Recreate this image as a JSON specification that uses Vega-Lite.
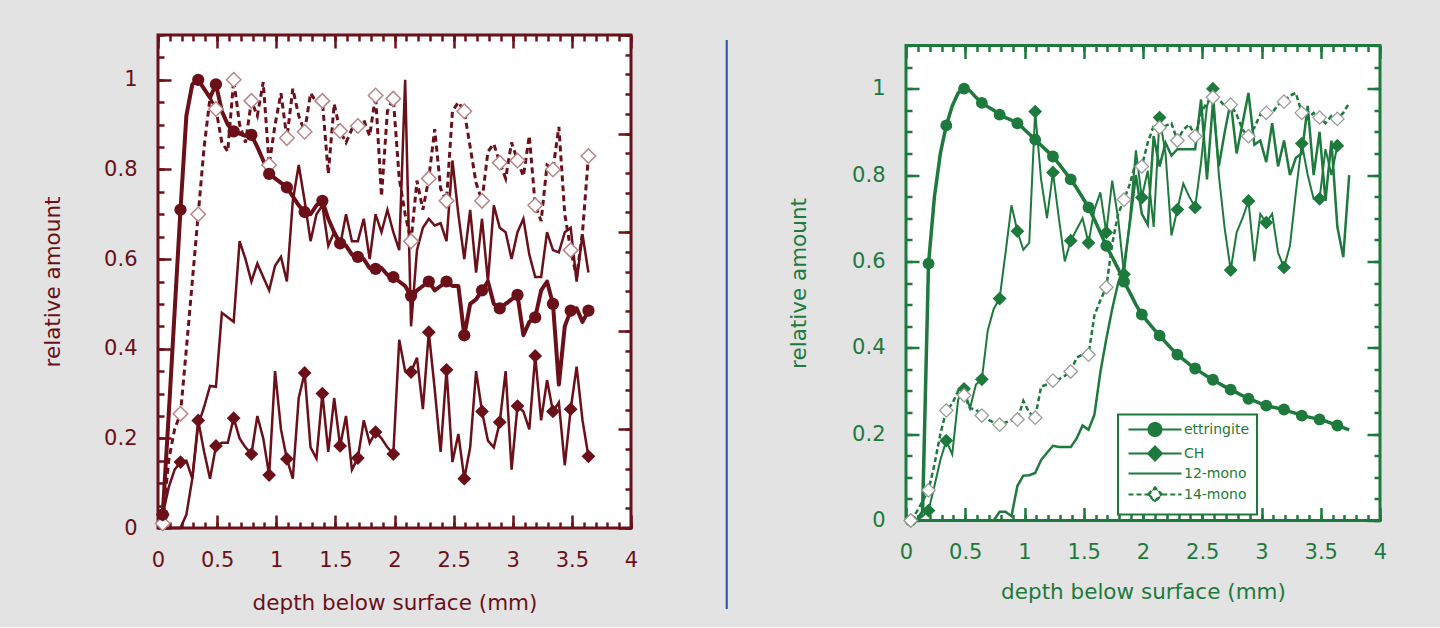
{
"$schema":"https://vega.github.io/schema/vega-lite/v6.json",
"background":"#e3e3e3",
"padding":{"left":41,"top":32,"right":62,"bottom":12},
"spacing":0,
"center":true,
"resolve":{"legend":{"shape":"independent","strokeDash":"independent"}},
"datasets":{
"L":[
{"x":0.04,"ettringite":0.03,"CH":0.03,"12-mono":0,"14-mono":0.01},
{"x":0.09,"ettringite":0.25,"CH":0.09,"12-mono":0,"14-mono":0.15},
{"x":0.14,"ettringite":0.48,"CH":0.13,"12-mono":0,"14-mono":0.22},
{"x":0.19,"ettringite":0.71,"CH":0.147,"12-mono":0,"14-mono":0.255},
{"x":0.24,"ettringite":0.92,"CH":0.15,"12-mono":0.03,"14-mono":0.40},
{"x":0.29,"ettringite":0.99,"CH":0.11,"12-mono":0.11,"14-mono":0.55},
{"x":0.34,"ettringite":1.0,"CH":0.24,"12-mono":0.23,"14-mono":0.70},
{"x":0.39,"ettringite":0.98,"CH":0.17,"12-mono":0.27,"14-mono":0.85},
{"x":0.44,"ettringite":0.96,"CH":0.11,"12-mono":0.317,"14-mono":0.96},
{"x":0.49,"ettringite":0.99,"CH":0.183,"12-mono":0.315,"14-mono":0.935},
{"x":0.54,"ettringite":0.93,"CH":0.19,"12-mono":0.48,"14-mono":0.86},
{"x":0.59,"ettringite":0.90,"CH":0.19,"12-mono":0.47,"14-mono":0.84},
{"x":0.64,"ettringite":0.885,"CH":0.245,"12-mono":0.46,"14-mono":1.0},
{"x":0.69,"ettringite":0.88,"CH":0.20,"12-mono":0.64,"14-mono":0.90},
{"x":0.74,"ettringite":0.875,"CH":0.18,"12-mono":0.60,"14-mono":0.86},
{"x":0.79,"ettringite":0.877,"CH":0.165,"12-mono":0.55,"14-mono":0.953},
{"x":0.84,"ettringite":0.85,"CH":0.25,"12-mono":0.59,"14-mono":0.92},
{"x":0.89,"ettringite":0.82,"CH":0.20,"12-mono":0.56,"14-mono":0.995},
{"x":0.94,"ettringite":0.79,"CH":0.118,"12-mono":0.53,"14-mono":0.81},
{"x":0.99,"ettringite":0.78,"CH":0.35,"12-mono":0.585,"14-mono":0.90},
{"x":1.04,"ettringite":0.77,"CH":0.22,"12-mono":0.605,"14-mono":0.97},
{"x":1.09,"ettringite":0.76,"CH":0.154,"12-mono":0.55,"14-mono":0.87},
{"x":1.14,"ettringite":0.74,"CH":0.11,"12-mono":0.73,"14-mono":0.98},
{"x":1.19,"ettringite":0.72,"CH":0.29,"12-mono":0.81,"14-mono":0.92},
{"x":1.24,"ettringite":0.705,"CH":0.346,"12-mono":0.73,"14-mono":0.884},
{"x":1.29,"ettringite":0.70,"CH":0.18,"12-mono":0.64,"14-mono":0.97},
{"x":1.34,"ettringite":0.72,"CH":0.155,"12-mono":0.70,"14-mono":0.95},
{"x":1.39,"ettringite":0.73,"CH":0.30,"12-mono":0.72,"14-mono":0.953},
{"x":1.44,"ettringite":0.69,"CH":0.17,"12-mono":0.63,"14-mono":0.79},
{"x":1.49,"ettringite":0.66,"CH":0.29,"12-mono":0.66,"14-mono":0.946},
{"x":1.54,"ettringite":0.635,"CH":0.183,"12-mono":0.63,"14-mono":0.886},
{"x":1.59,"ettringite":0.63,"CH":0.25,"12-mono":0.70,"14-mono":0.86},
{"x":1.64,"ettringite":0.61,"CH":0.13,"12-mono":0.64,"14-mono":0.89},
{"x":1.69,"ettringite":0.605,"CH":0.156,"12-mono":0.64,"14-mono":0.897},
{"x":1.74,"ettringite":0.60,"CH":0.24,"12-mono":0.69,"14-mono":0.91},
{"x":1.79,"ettringite":0.58,"CH":0.19,"12-mono":0.60,"14-mono":0.875},
{"x":1.84,"ettringite":0.578,"CH":0.214,"12-mono":0.70,"14-mono":0.965},
{"x":1.89,"ettringite":0.58,"CH":0.20,"12-mono":0.66,"14-mono":0.74},
{"x":1.94,"ettringite":0.565,"CH":0.18,"12-mono":0.71,"14-mono":0.93},
{"x":1.99,"ettringite":0.56,"CH":0.165,"12-mono":0.66,"14-mono":0.958},
{"x":2.04,"ettringite":0.55,"CH":0.42,"12-mono":0.62,"14-mono":0.78},
{"x":2.09,"ettringite":0.54,"CH":0.35,"12-mono":1.0,"14-mono":0.70},
{"x":2.14,"ettringite":0.518,"CH":0.348,"12-mono":0.45,"14-mono":0.64},
{"x":2.19,"ettringite":0.53,"CH":0.38,"12-mono":0.62,"14-mono":0.775},
{"x":2.24,"ettringite":0.54,"CH":0.265,"12-mono":0.67,"14-mono":0.71},
{"x":2.29,"ettringite":0.55,"CH":0.437,"12-mono":0.69,"14-mono":0.78},
{"x":2.34,"ettringite":0.53,"CH":0.31,"12-mono":0.675,"14-mono":0.89},
{"x":2.39,"ettringite":0.54,"CH":0.17,"12-mono":0.68,"14-mono":0.757},
{"x":2.44,"ettringite":0.55,"CH":0.353,"12-mono":0.64,"14-mono":0.73},
{"x":2.49,"ettringite":0.54,"CH":0.147,"12-mono":0.82,"14-mono":0.93},
{"x":2.54,"ettringite":0.54,"CH":0.21,"12-mono":0.70,"14-mono":0.95},
{"x":2.59,"ettringite":0.43,"CH":0.11,"12-mono":0.60,"14-mono":0.93},
{"x":2.64,"ettringite":0.50,"CH":0.18,"12-mono":0.71,"14-mono":0.85},
{"x":2.69,"ettringite":0.51,"CH":0.35,"12-mono":0.57,"14-mono":0.77},
{"x":2.74,"ettringite":0.53,"CH":0.26,"12-mono":0.69,"14-mono":0.73},
{"x":2.79,"ettringite":0.55,"CH":0.195,"12-mono":0.55,"14-mono":0.84},
{"x":2.84,"ettringite":0.50,"CH":0.18,"12-mono":0.72,"14-mono":0.857},
{"x":2.89,"ettringite":0.49,"CH":0.236,"12-mono":0.67,"14-mono":0.815},
{"x":2.94,"ettringite":0.50,"CH":0.35,"12-mono":0.66,"14-mono":0.78},
{"x":2.99,"ettringite":0.51,"CH":0.13,"12-mono":0.60,"14-mono":0.86},
{"x":3.04,"ettringite":0.52,"CH":0.272,"12-mono":0.66,"14-mono":0.82},
{"x":3.09,"ettringite":0.43,"CH":0.26,"12-mono":0.69,"14-mono":0.785},
{"x":3.14,"ettringite":0.46,"CH":0.22,"12-mono":0.61,"14-mono":0.875},
{"x":3.19,"ettringite":0.47,"CH":0.384,"12-mono":0.56,"14-mono":0.72},
{"x":3.24,"ettringite":0.53,"CH":0.24,"12-mono":0.56,"14-mono":0.685},
{"x":3.29,"ettringite":0.55,"CH":0.33,"12-mono":0.66,"14-mono":0.81},
{"x":3.34,"ettringite":0.50,"CH":0.26,"12-mono":0.62,"14-mono":0.80},
{"x":3.39,"ettringite":0.32,"CH":0.28,"12-mono":0.615,"14-mono":0.895},
{"x":3.44,"ettringite":0.45,"CH":0.14,"12-mono":0.66,"14-mono":0.70},
{"x":3.49,"ettringite":0.485,"CH":0.265,"12-mono":0.67,"14-mono":0.62},
{"x":3.54,"ettringite":0.49,"CH":0.36,"12-mono":0.55,"14-mono":0.56},
{"x":3.59,"ettringite":0.46,"CH":0.24,"12-mono":0.655,"14-mono":0.66},
{"x":3.64,"ettringite":0.485,"CH":0.16,"12-mono":0.57,"14-mono":0.83}
],
"R":[
{"x":0.04,"ettringite":0,"CH":0,"12-mono":0,"14-mono":0},
{"x":0.09,"ettringite":0,"CH":0,"12-mono":0,"14-mono":0.02},
{"x":0.14,"ettringite":0.02,"CH":0.01,"12-mono":0,"14-mono":0.045},
{"x":0.19,"ettringite":0.595,"CH":0.023,"12-mono":0,"14-mono":0.07},
{"x":0.24,"ettringite":0.75,"CH":0.08,"12-mono":0,"14-mono":0.13},
{"x":0.29,"ettringite":0.85,"CH":0.14,"12-mono":0,"14-mono":0.20},
{"x":0.34,"ettringite":0.915,"CH":0.185,"12-mono":0,"14-mono":0.255},
{"x":0.39,"ettringite":0.96,"CH":0.153,"12-mono":0,"14-mono":0.27},
{"x":0.44,"ettringite":0.99,"CH":0.28,"12-mono":0,"14-mono":0.30},
{"x":0.49,"ettringite":1.0,"CH":0.305,"12-mono":0,"14-mono":0.29},
{"x":0.54,"ettringite":0.995,"CH":0.26,"12-mono":0,"14-mono":0.26},
{"x":0.59,"ettringite":0.98,"CH":0.315,"12-mono":0,"14-mono":0.257},
{"x":0.64,"ettringite":0.967,"CH":0.327,"12-mono":0,"14-mono":0.243},
{"x":0.69,"ettringite":0.958,"CH":0.44,"12-mono":0,"14-mono":0.234},
{"x":0.74,"ettringite":0.95,"CH":0.49,"12-mono":0,"14-mono":0.227},
{"x":0.79,"ettringite":0.94,"CH":0.514,"12-mono":0.02,"14-mono":0.222},
{"x":0.84,"ettringite":0.933,"CH":0.62,"12-mono":0.02,"14-mono":0.227},
{"x":0.89,"ettringite":0.927,"CH":0.73,"12-mono":0.01,"14-mono":0.232},
{"x":0.94,"ettringite":0.92,"CH":0.67,"12-mono":0.08,"14-mono":0.234},
{"x":0.99,"ettringite":0.908,"CH":0.627,"12-mono":0.104,"14-mono":0.277},
{"x":1.04,"ettringite":0.895,"CH":0.643,"12-mono":0.105,"14-mono":0.25},
{"x":1.09,"ettringite":0.882,"CH":0.947,"12-mono":0.11,"14-mono":0.238},
{"x":1.14,"ettringite":0.869,"CH":0.79,"12-mono":0.14,"14-mono":0.31},
{"x":1.19,"ettringite":0.856,"CH":0.70,"12-mono":0.157,"14-mono":0.315},
{"x":1.24,"ettringite":0.843,"CH":0.806,"12-mono":0.173,"14-mono":0.324},
{"x":1.29,"ettringite":0.826,"CH":0.70,"12-mono":0.17,"14-mono":0.327},
{"x":1.34,"ettringite":0.808,"CH":0.60,"12-mono":0.17,"14-mono":0.335},
{"x":1.39,"ettringite":0.79,"CH":0.648,"12-mono":0.17,"14-mono":0.345},
{"x":1.44,"ettringite":0.77,"CH":0.674,"12-mono":0.19,"14-mono":0.377},
{"x":1.49,"ettringite":0.748,"CH":0.70,"12-mono":0.22,"14-mono":0.384},
{"x":1.54,"ettringite":0.725,"CH":0.643,"12-mono":0.21,"14-mono":0.384},
{"x":1.59,"ettringite":0.697,"CH":0.72,"12-mono":0.245,"14-mono":0.475},
{"x":1.64,"ettringite":0.667,"CH":0.76,"12-mono":0.343,"14-mono":0.51},
{"x":1.69,"ettringite":0.636,"CH":0.667,"12-mono":0.42,"14-mono":0.54},
{"x":1.74,"ettringite":0.61,"CH":0.787,"12-mono":0.49,"14-mono":0.64},
{"x":1.79,"ettringite":0.583,"CH":0.70,"12-mono":0.55,"14-mono":0.71},
{"x":1.84,"ettringite":0.553,"CH":0.57,"12-mono":0.59,"14-mono":0.743},
{"x":1.89,"ettringite":0.527,"CH":0.70,"12-mono":0.69,"14-mono":0.78},
{"x":1.94,"ettringite":0.50,"CH":0.857,"12-mono":0.80,"14-mono":0.83},
{"x":1.99,"ettringite":0.477,"CH":0.748,"12-mono":0.71,"14-mono":0.82},
{"x":2.04,"ettringite":0.46,"CH":0.81,"12-mono":0.685,"14-mono":0.875},
{"x":2.09,"ettringite":0.444,"CH":0.68,"12-mono":0.89,"14-mono":0.914},
{"x":2.14,"ettringite":0.428,"CH":0.933,"12-mono":0.82,"14-mono":0.91},
{"x":2.19,"ettringite":0.413,"CH":0.85,"12-mono":0.875,"14-mono":0.914},
{"x":2.24,"ettringite":0.398,"CH":0.66,"12-mono":0.845,"14-mono":0.92},
{"x":2.29,"ettringite":0.384,"CH":0.72,"12-mono":0.86,"14-mono":0.88},
{"x":2.34,"ettringite":0.373,"CH":0.78,"12-mono":0.86,"14-mono":0.905},
{"x":2.39,"ettringite":0.362,"CH":0.75,"12-mono":0.86,"14-mono":0.917},
{"x":2.44,"ettringite":0.352,"CH":0.725,"12-mono":0.86,"14-mono":0.89},
{"x":2.49,"ettringite":0.343,"CH":0.83,"12-mono":0.975,"14-mono":0.944},
{"x":2.54,"ettringite":0.334,"CH":0.96,"12-mono":0.79,"14-mono":0.968},
{"x":2.59,"ettringite":0.326,"CH":1.0,"12-mono":0.968,"14-mono":0.98},
{"x":2.64,"ettringite":0.318,"CH":0.80,"12-mono":0.82,"14-mono":0.975},
{"x":2.69,"ettringite":0.31,"CH":0.675,"12-mono":0.90,"14-mono":0.96},
{"x":2.74,"ettringite":0.303,"CH":0.58,"12-mono":0.97,"14-mono":0.963},
{"x":2.79,"ettringite":0.296,"CH":0.667,"12-mono":0.85,"14-mono":0.94},
{"x":2.84,"ettringite":0.289,"CH":0.70,"12-mono":0.92,"14-mono":0.905},
{"x":2.89,"ettringite":0.282,"CH":0.74,"12-mono":0.99,"14-mono":0.89},
{"x":2.94,"ettringite":0.277,"CH":0.60,"12-mono":0.87,"14-mono":0.91},
{"x":2.99,"ettringite":0.271,"CH":0.71,"12-mono":0.88,"14-mono":0.94},
{"x":3.04,"ettringite":0.266,"CH":0.69,"12-mono":0.83,"14-mono":0.944},
{"x":3.09,"ettringite":0.263,"CH":0.71,"12-mono":0.92,"14-mono":0.944},
{"x":3.14,"ettringite":0.26,"CH":0.62,"12-mono":0.82,"14-mono":0.963},
{"x":3.19,"ettringite":0.257,"CH":0.586,"12-mono":0.88,"14-mono":0.97},
{"x":3.24,"ettringite":0.252,"CH":0.636,"12-mono":0.80,"14-mono":0.984},
{"x":3.29,"ettringite":0.248,"CH":0.76,"12-mono":0.84,"14-mono":0.99},
{"x":3.34,"ettringite":0.243,"CH":0.873,"12-mono":0.85,"14-mono":0.944},
{"x":3.39,"ettringite":0.24,"CH":0.80,"12-mono":0.96,"14-mono":0.93},
{"x":3.44,"ettringite":0.237,"CH":0.745,"12-mono":0.80,"14-mono":0.944},
{"x":3.49,"ettringite":0.234,"CH":0.745,"12-mono":0.90,"14-mono":0.933},
{"x":3.54,"ettringite":0.23,"CH":0.86,"12-mono":0.74,"14-mono":0.92},
{"x":3.59,"ettringite":0.225,"CH":0.80,"12-mono":0.88,"14-mono":0.937},
{"x":3.64,"ettringite":0.22,"CH":0.868,"12-mono":0.68,"14-mono":0.93},
{"x":3.69,"ettringite":0.215,"CH":null,"12-mono":0.61,"14-mono":0.944},
{"x":3.74,"ettringite":0.21,"CH":null,"12-mono":0.80,"14-mono":0.967}
]
},
"hconcat":[
{
"width":473,"height":493,
"view":{"stroke":"#6b1019","strokeWidth":3,"fill":"white"},
"data":{"name":"L"},
"transform":[
{"window":[{"op":"row_number","as":"rn"}],"sort":[{"field":"x","order":"ascending"}]},
{"fold":["ettringite","CH","12-mono","14-mono"],"as":["series","y"]}
],
"layer":[
{"layer":[
{"transform":[{"filter":"datum.series=='14-mono'"}],
 "mark":{"type":"line","color":"#6b1019","strokeWidth":3,"strokeDash":[6,4]},
 "encoding":{
  "x":{"field":"x","type":"quantitative","scale":{"domain":[0,4],"nice":false},
   "axis":{"orient":"bottom","values":[0,0.5,1,1.5,2,2.5,3,3.5,4],"format":"~g","tickSize":-13,
    "labelPadding":34,"labelOverlap":false,"labelFlush":false,"title":"depth below surface (mm)","titlePadding":22,
    "labelColor":"#6b1019","titleColor":"#6b1019","tickColor":"#6b1019"}},
  "y":{"field":"y","type":"quantitative","scale":{"domain":[0,1.1],"nice":false},
   "axis":{"orient":"left","values":[0,0.2,0.4,0.6,0.8,1],"format":"~g","tickSize":-13,
    "labelPadding":34,"labelOverlap":false,"labelFlush":false,"title":"relative amount","titlePadding":39,
    "labelColor":"#6b1019","titleColor":"#6b1019","tickColor":"#6b1019"}}
 }},
{"transform":[{"filter":"datum.series=='12-mono'"}],
 "mark":{"type":"line","color":"#6b1019","strokeWidth":2.5},
 "encoding":{
  "x":{"field":"x","type":"quantitative","scale":{"domain":[0,4],"nice":false},
   "axis":{"orient":"bottom","values":[0,0.1,0.2,0.3,0.4,0.5,0.6,0.7,0.8,0.9,1,1.1,1.2,1.3,1.4,1.5,1.6,1.7,1.8,1.9,2,2.1,2.2,2.3,2.4,2.5,2.6,2.7,2.8,2.9,3,3.1,3.2,3.3,3.4,3.5,3.6,3.7,3.8,3.9,4],
    "labels":false,"title":null,"tickSize":-6,"tickColor":"#6b1019"}},
  "y":{"field":"y","type":"quantitative","scale":{"domain":[0,1.1],"nice":false},
   "axis":{"orient":"left","values":[0,0.05,0.1,0.15,0.2,0.25,0.3,0.35,0.4,0.45,0.5,0.55,0.6,0.65,0.7,0.75,0.8,0.85,0.9,0.95,1,1.05,1.1],
    "labels":false,"title":null,"tickSize":-6,"tickColor":"#6b1019"}}
 }},
{"transform":[{"filter":"datum.series=='CH'"}],
 "mark":{"type":"line","color":"#6b1019","strokeWidth":2.5},
 "encoding":{
  "x":{"field":"x","type":"quantitative","scale":{"domain":[0,4],"nice":false},
   "axis":{"orient":"top","values":[0,0.5,1,1.5,2,2.5,3,3.5,4],"labels":false,"title":null,"tickSize":-13,"tickColor":"#6b1019"}},
  "y":{"field":"y","type":"quantitative","scale":{"domain":[0,1.1],"nice":false},"axis":null}
 }},
{"transform":[{"filter":"datum.series=='ettringite'"}],
 "mark":{"type":"line","color":"#6b1019","strokeWidth":4,"strokeJoin":"round"},
 "encoding":{
  "x":{"field":"x","type":"quantitative","scale":{"domain":[0,4],"nice":false},
   "axis":{"orient":"top","values":[0,0.1,0.2,0.3,0.4,0.5,0.6,0.7,0.8,0.9,1,1.1,1.2,1.3,1.4,1.5,1.6,1.7,1.8,1.9,2,2.1,2.2,2.3,2.4,2.5,2.6,2.7,2.8,2.9,3,3.1,3.2,3.3,3.4,3.5,3.6,3.7,3.8,3.9,4],
    "labels":false,"title":null,"tickSize":-6,"tickColor":"#6b1019"}},
  "y":{"field":"y","type":"quantitative","scale":{"domain":[0,1.1],"nice":false},"axis":null}
 }},
{"transform":[{"filter":"datum.series=='14-mono' && (datum.rn-1)%3==0"}],
 "mark":{"type":"point","shape":"diamond","filled":true,"fill":"white","stroke":"#b88589","strokeWidth":1.5,"size":210,"opacity":1},
 "encoding":{
  "x":{"field":"x","type":"quantitative","scale":{"domain":[0,4],"nice":false},"axis":null},
  "y":{"field":"y","type":"quantitative","scale":{"domain":[0,1.1],"nice":false},"axis":null}
 }},
{"transform":[{"filter":"datum.series=='CH' && (datum.rn-1)%3==0"}],
 "mark":{"type":"point","shape":"diamond","filled":true,"color":"#6b1019","size":190,"opacity":1},
 "encoding":{
  "x":{"field":"x","type":"quantitative","scale":{"domain":[0,4],"nice":false},"axis":null},
  "y":{"field":"y","type":"quantitative","scale":{"domain":[0,1.1],"nice":false},"axis":null}
 }},
{"transform":[{"filter":"datum.series=='ettringite' && (datum.rn-1)%3==0"}],
 "mark":{"type":"point","shape":"circle","filled":true,"color":"#6b1019","size":150,"opacity":1},
 "encoding":{
  "x":{"field":"x","type":"quantitative","scale":{"domain":[0,4],"nice":false},"axis":null},
  "y":{"field":"y","type":"quantitative","scale":{"domain":[0,1.1],"nice":false},"axis":null}
 }}
],
"resolve":{"axis":{"x":"independent","y":"independent"}}},
{"transform":[{"filter":"datum.rn==1 && datum.series=='CH'"}],
 "mark":{"type":"point","opacity":0},
 "encoding":{
  "x":{"field":"x","type":"quantitative","scale":{"domain":[0,4],"nice":false},"axis":null},
  "y":{"field":"y","type":"quantitative","scale":{"domain":[0,5],"nice":false},
   "axis":{"orient":"right","values":[0,1,2,3,4,5],"labels":false,"title":null,"tickSize":-13,"tickColor":"#6b1019"}}
 }},
{"transform":[{"filter":"datum.rn==1 && datum.series=='CH'"}],
 "mark":{"type":"point","opacity":0},
 "encoding":{
  "x":{"field":"x","type":"quantitative","scale":{"domain":[0,4],"nice":false},"axis":null},
  "y":{"field":"y","type":"quantitative","scale":{"domain":[0,5],"nice":false},
   "axis":{"orient":"right","values":[0,0.2,0.4,0.6,0.8,1,1.2,1.4,1.6,1.8,2,2.2,2.4,2.6,2.8,3,3.2,3.4,3.6,3.8,4,4.2,4.4,4.6,4.8,5],"labels":false,"title":null,"tickSize":-6,"tickColor":"#6b1019"}}
 }}
],
"resolve":{"scale":{"y":"independent"},"axis":{"x":"independent","y":"independent"}}
},
{
"width":147,"height":569,
"view":{"stroke":null},
"data":{"values":[{"p":0.59}]},
"mark":{"type":"rule","color":"#1b55a3","strokeWidth":2},
"encoding":{"x":{"field":"p","type":"quantitative","scale":{"domain":[0,1],"nice":false},"axis":null}}
},
{
"width":474,"height":475,
"view":{"stroke":"#1d7a3c","strokeWidth":3,"fill":"white"},
"data":{"name":"R"},
"transform":[
{"window":[{"op":"row_number","as":"rn"}],"sort":[{"field":"x","order":"ascending"}]},
{"fold":["ettringite","CH","12-mono","14-mono"],"as":["series","y"]},
{"filter":"isValid(datum.y)"}
],
"layer":[
{"transform":[{"filter":"datum.series=='12-mono'"}],
 "mark":{"type":"line","color":"#1d7a3c","strokeWidth":2.5},
 "encoding":{
  "x":{"field":"x","type":"quantitative","scale":{"domain":[0,4],"nice":false},
   "axis":{"orient":"bottom","values":[0,0.5,1,1.5,2,2.5,3,3.5,4],"format":"~g","tickSize":-13,
    "labelPadding":34,"labelOverlap":false,"labelFlush":false,"title":"depth below surface (mm)","titlePadding":19,
    "labelColor":"#1d7a3c","titleColor":"#1d7a3c","tickColor":"#1d7a3c"}},
  "y":{"field":"y","type":"quantitative","scale":{"domain":[0,1.1],"nice":false},
   "axis":{"orient":"left","values":[0,0.2,0.4,0.6,0.8,1],"format":"~g","tickSize":-13,
    "labelPadding":34,"labelOverlap":false,"labelFlush":false,"title":"relative amount","titlePadding":41,
    "labelColor":"#1d7a3c","titleColor":"#1d7a3c","tickColor":"#1d7a3c"}}
 }},
{"transform":[{"filter":"datum.series=='CH'"}],
 "mark":{"type":"line","color":"#1d7a3c","strokeWidth":2},
 "encoding":{
  "x":{"field":"x","type":"quantitative","scale":{"domain":[0,4],"nice":false},
   "axis":{"orient":"bottom","values":[0,0.1,0.2,0.3,0.4,0.5,0.6,0.7,0.8,0.9,1,1.1,1.2,1.3,1.4,1.5,1.6,1.7,1.8,1.9,2,2.1,2.2,2.3,2.4,2.5,2.6,2.7,2.8,2.9,3,3.1,3.2,3.3,3.4,3.5,3.6,3.7,3.8,3.9,4],
    "labels":false,"title":null,"tickSize":-6,"tickColor":"#1d7a3c"}},
  "y":{"field":"y","type":"quantitative","scale":{"domain":[0,1.1],"nice":false},
   "axis":{"orient":"left","values":[0,0.05,0.1,0.15,0.2,0.25,0.3,0.35,0.4,0.45,0.5,0.55,0.6,0.65,0.7,0.75,0.8,0.85,0.9,0.95,1,1.05,1.1],
    "labels":false,"title":null,"tickSize":-6,"tickColor":"#1d7a3c"}}
 }},
{"transform":[{"filter":"datum.series=='14-mono'"}],
 "mark":{"type":"line","color":"#1d7a3c","strokeWidth":2.5,"strokeDash":[5,3]},
 "encoding":{
  "x":{"field":"x","type":"quantitative","scale":{"domain":[0,4],"nice":false},
   "axis":{"orient":"top","values":[0,0.5,1,1.5,2,2.5,3,3.5,4],"labels":false,"title":null,"tickSize":-13,"tickColor":"#1d7a3c"}},
  "y":{"field":"y","type":"quantitative","scale":{"domain":[0,1.1],"nice":false},
   "axis":{"orient":"right","values":[0,0.2,0.4,0.6,0.8,1],"labels":false,"title":null,"tickSize":-13,"tickColor":"#1d7a3c"}}
 }},
{"transform":[{"filter":"datum.series=='ettringite'"}],
 "mark":{"type":"line","color":"#1d7a3c","strokeWidth":3.5,"strokeJoin":"round"},
 "encoding":{
  "x":{"field":"x","type":"quantitative","scale":{"domain":[0,4],"nice":false},
   "axis":{"orient":"top","values":[0,0.1,0.2,0.3,0.4,0.5,0.6,0.7,0.8,0.9,1,1.1,1.2,1.3,1.4,1.5,1.6,1.7,1.8,1.9,2,2.1,2.2,2.3,2.4,2.5,2.6,2.7,2.8,2.9,3,3.1,3.2,3.3,3.4,3.5,3.6,3.7,3.8,3.9,4],
    "labels":false,"title":null,"tickSize":-6,"tickColor":"#1d7a3c"}},
  "y":{"field":"y","type":"quantitative","scale":{"domain":[0,1.1],"nice":false},
   "axis":{"orient":"right","values":[0,0.05,0.1,0.15,0.2,0.25,0.3,0.35,0.4,0.45,0.5,0.55,0.6,0.65,0.7,0.75,0.8,0.85,0.9,0.95,1,1.05,1.1],
    "labels":false,"title":null,"tickSize":-6,"tickColor":"#1d7a3c"}}
 }},
{"transform":[{"filter":"datum.series=='CH' && (datum.rn-1)%3==0"}],
 "mark":{"type":"point","shape":"diamond","filled":true,"color":"#1d7a3c","size":190,"opacity":1},
 "encoding":{
  "x":{"field":"x","type":"quantitative","scale":{"domain":[0,4],"nice":false},"axis":null},
  "y":{"field":"y","type":"quantitative","scale":{"domain":[0,1.1],"nice":false},"axis":null}
 }},
{"transform":[{"filter":"datum.series=='ettringite' && (datum.rn-1)%3==0"}],
 "mark":{"type":"point","shape":"circle","filled":true,"color":"#1d7a3c","size":140,"opacity":1},
 "encoding":{
  "x":{"field":"x","type":"quantitative","scale":{"domain":[0,4],"nice":false},"axis":null},
  "y":{"field":"y","type":"quantitative","scale":{"domain":[0,1.1],"nice":false},"axis":null}
 }},
{"transform":[{"filter":"datum.series=='14-mono' && (datum.rn-1)%3==0"}],
 "mark":{"type":"point","shape":"diamond","filled":true,"fill":"white","stroke":"#9c9c9c","strokeWidth":1.3,"size":180,"opacity":1},
 "encoding":{
  "x":{"field":"x","type":"quantitative","scale":{"domain":[0,4],"nice":false},"axis":null},
  "y":{"field":"y","type":"quantitative","scale":{"domain":[0,1.1],"nice":false},"axis":null}
 }},
{"transform":[{"filter":"datum.rn==1"}],
 "mark":{"type":"point","opacity":0,"filled":true,"fill":"#1d7a3c","stroke":"#1d7a3c","strokeWidth":2},
 "encoding":{
  "x":{"field":"x","type":"quantitative","scale":{"domain":[0,4],"nice":false},"axis":null},
  "y":{"field":"y","type":"quantitative","scale":{"domain":[0,1.1],"nice":false},"axis":null},
  "shape":{"field":"series","type":"nominal","legend":{"title":null},
   "scale":{"domain":["ettringite","CH","12-mono","14-mono"],
    "range":["M-5.3,0H5.3M-1.3,0A1.3,1.3,0,1,1,1.3,0A1.3,1.3,0,1,1,-1.3,0Z","M-5.3,0H5.3M-1.4,0L0,-1.4L1.4,0L0,1.4Z","M-5.3,0H5.3","M-5.3,0H-1.45M1.45,0H5.3M-1.45,0L0,-1.45L1.45,0L0,1.45ZM-1.25,0L0,1.25L1.25,0L0,-1.25Z"]}},
  "strokeDash":{"field":"series","type":"nominal","legend":{"title":null},
   "scale":{"domain":["ettringite","CH","12-mono","14-mono"],"range":[[1,0],[1,0],[1,0],[5,3]]}}
 }}
],
"resolve":{"axis":{"x":"independent","y":"independent"}}
}
],
"config":{
"font":"DejaVu Sans",
"axis":{"labelFont":"DejaVu Sans","titleFont":"DejaVu Sans","labelFontSize":21,"titleFontSize":21.5,"titleFontWeight":"normal","domain":false,"grid":false,"tickWidth":2.5},
"legend":{"orient":"none","legendX":212,"legendY":369,"fillColor":"white","strokeColor":"#1d7a3c","strokeWidth":2,"padding":8,"labelFont":"DejaVu Sans","labelFontSize":14,"labelColor":"#1d7a3c","symbolSize":100,"symbolOffset":22,"labelOffset":22,"rowPadding":2,"symbolStrokeWidth":2},
"view":{"stroke":null}
}
}
